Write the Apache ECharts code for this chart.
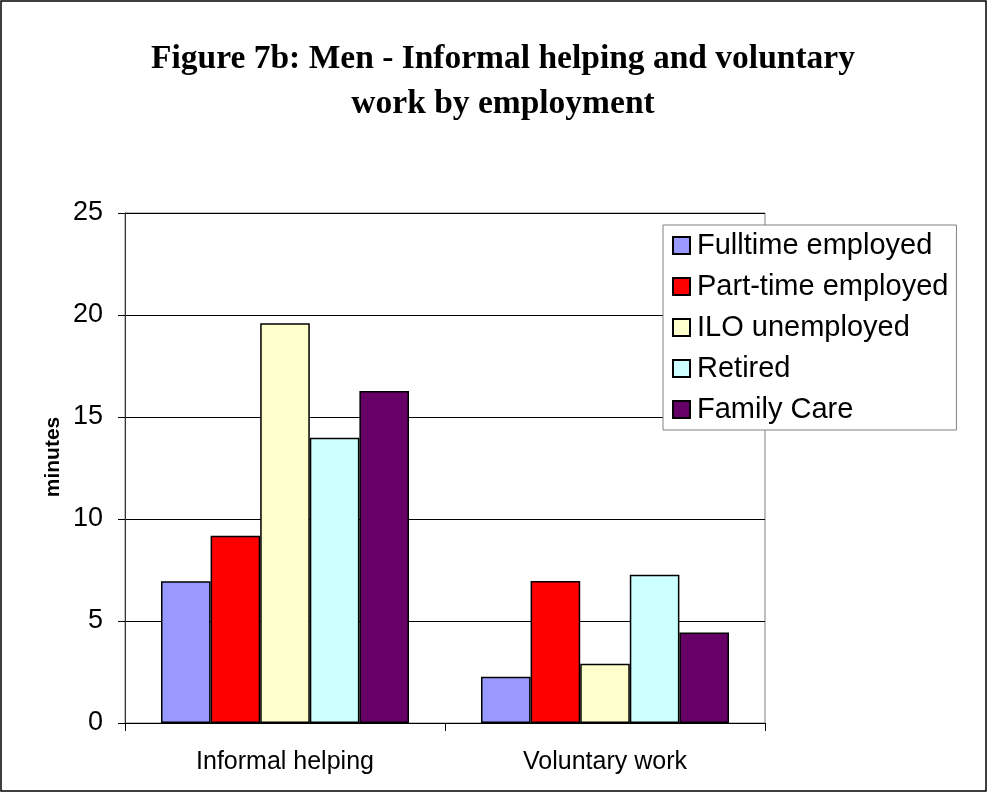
<!DOCTYPE html>
<html>
<head>
<meta charset="utf-8">
<title>Figure 7b</title>
<script src="https://cdn.jsdelivr.net/npm/echarts@6/dist/echarts.min.js"></script>
<style>
  html, body { margin: 0; padding: 0; background: #fff; }
  #chart { width: 987px; height: 792px; }
</style>
</head>
<body>
<div id="chart"></div>
<script>
// categories on the x axis
const categories = ['Informal helping', 'Voluntary work'];
// one entry per employment group
const groupNames = ['Fulltime employed', 'Part-time employed', 'ILO unemployed', 'Retired', 'Family Care'];
const fulltime = [6.95, 2.27];
const parttime = [9.18, 6.96];
const unemployed = [19.6, 2.91];
const retired = [13.98, 7.27];
const familyCare = [16.28, 4.44];
const yTicks = [0, 5, 10, 15, 20, 25];

const groupValues = [fulltime, parttime, unemployed, retired, familyCare];
const groupColors = ['#9999FF', '#FF0000', '#FFFFCC', '#CCFFFF', '#660066'];

const chart = echarts.init(document.getElementById('chart'));

const series = groupNames.map(function (name, i) {
  return {
    name: name,
    type: 'bar',
    data: groupValues[i],
    barGap: '0%',
    barCategoryGap: '22.5%',
    itemStyle: {
      color: groupColors[i],
      borderColor: '#000',
      borderWidth: 1.5
    }
  };
});

const option = {
  animation: false,
  backgroundColor: '#fff',
  title: {
    text: 'Figure 7b: Men - Informal helping and voluntary\nwork by employment',
    left: 498,
    top: 32,
    textAlign: 'center',
    textStyle: {
      fontFamily: 'Liberation Serif',
      fontWeight: 'bold',
      fontSize: 33.5,
      lineHeight: 45,
      color: '#000'
    }
  },
  graphic: [{
    type: 'rect',
    shape: { x: 1, y: 1, width: 985, height: 790 },
    style: { fill: null, stroke: '#000', lineWidth: 1.5 },
    silent: true,
    z: 100
  }, {
    // y axis title, sits a bit above the middle of the axis like the original
    type: 'text',
    x: 53,
    y: 457,
    rotation: Math.PI / 2,
    style: {
      text: 'minutes',
      fontFamily: 'Liberation Sans',
      fontWeight: 'bold',
      fontSize: 21,
      fill: '#000',
      align: 'center',
      verticalAlign: 'middle'
    }
  }],
  legend: {
    orient: 'vertical',
    left: 663,
    top: 225,
    data: groupNames,
    icon: 'rect',
    itemWidth: 17,
    itemHeight: 17,
    itemGap: 12,
    padding: [6, 8, 6, 9],
    backgroundColor: '#fff',
    borderColor: '#808080',
    borderWidth: 1,
    textStyle: {
      fontFamily: 'Liberation Sans',
      fontSize: 29,
      color: '#000',
      padding: [0, 0, 0, 2]
    },
    z: 10
  },
  grid: {
    left: 125,
    right: 222,
    top: 213,
    bottom: 69,
    show: true,
    borderColor: '#808080',
    borderWidth: 1
  },
  xAxis: {
    type: 'category',
    data: categories,
    axisLine: { lineStyle: { color: '#000', width: 1 } },
    axisTick: { show: true, length: 8, lineStyle: { color: '#000' } },
    axisLabel: {
      fontFamily: 'Liberation Sans',
      fontSize: 25,
      color: '#000',
      margin: 27
    }
  },
  yAxis: {
    type: 'value',
    min: yTicks[0],
    max: yTicks[yTicks.length - 1],
    interval: 5,
    axisLine: { show: true, lineStyle: { color: '#333', width: 1 } },
    axisTick: { show: true, length: 7, lineStyle: { color: '#000' } },
    axisLabel: {
      fontFamily: 'Liberation Sans',
      fontSize: 27,
      color: '#000',
      margin: 22
    },
    splitLine: { show: true, lineStyle: { color: '#000', width: 1 } }
  },
  series: series
};

chart.setOption(option);
</script>
</body>
</html>
